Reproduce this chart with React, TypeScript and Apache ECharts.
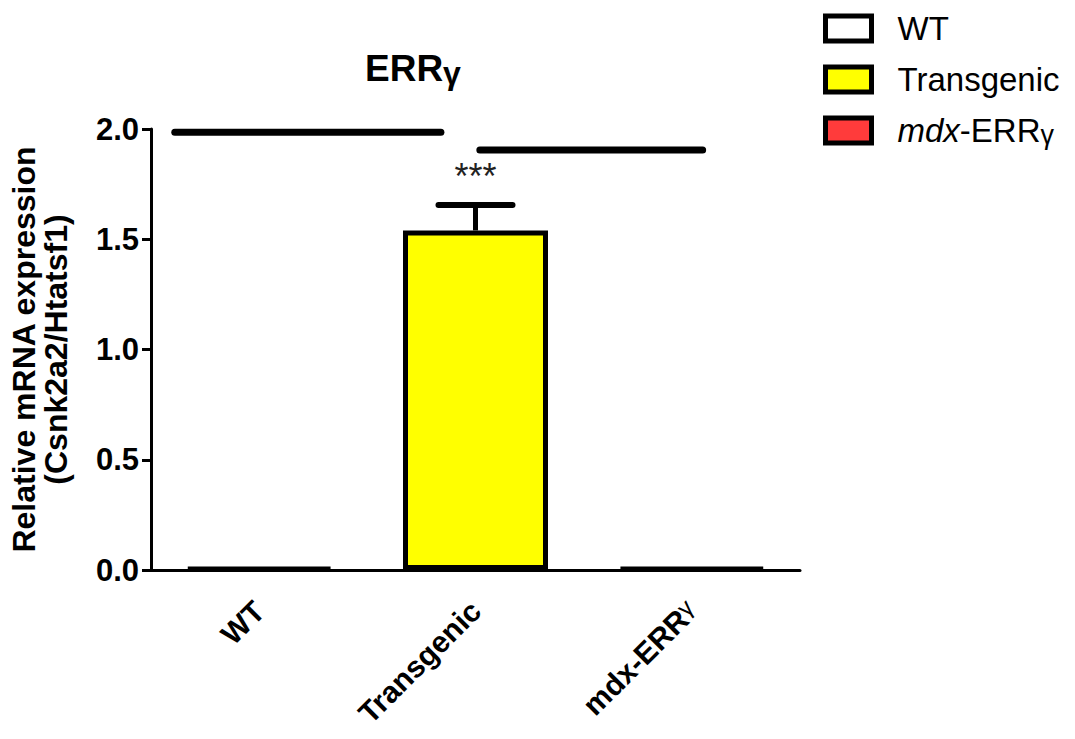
import React, { useEffect, useRef } from "react";
import * as echarts from "echarts";

const categories = ["WT", "Transgenic", "mdx-ERRγ"];
const seriesNames = ["WT", "Transgenic", "mdx-ERRγ"];
const seriesColors = ["#ffffff", "#ffff00", "#ff3b3b"];
const barValues = [0.01, 1.54, 0.01];
// [category index, mean, mean + error]
const errorData = [[1, 1.54, 1.655]];
const sigLabel = "***";
// [start (category units), end (category units), y value]
const sigLines = [
  [-0.39, 0.84, 1.985],
  [1.02, 2.05, 1.905],
];
const yTicks = [0, 0.5, 1.0, 1.5, 2.0];

export default function App() {
  const ref = useRef<HTMLDivElement>(null);
  useEffect(() => {
    const chart = echarts.init(ref.current!, null, { renderer: "svg" });
    const font = "'Liberation Sans', Arial, sans-serif";
    const barSeries = seriesNames.map((name, i) => ({
      name,
      type: "bar",
      barWidth: 145,
      barGap: "-100%",
      data: categories.map((_, j) => (j === i ? barValues[j] : "-")),
      itemStyle: { color: seriesColors[i], borderColor: "#000", borderWidth: 5 },
      z: 2,
    }));
    const gammaSplit = (s: string, a: string, g: string) =>
      s.endsWith("γ") ? "{" + a + "|" + s.slice(0, -1) + "}{" + g + "|γ}" : "{" + a + "|" + s + "}";
    chart.setOption({
      animation: false,
      title: {
        text: "{a|ERR}{b|γ}",
        left: 360,
        top: 42,
        textStyle: {
          rich: {
            a: { fontFamily: font, fontWeight: "bold", fontSize: 37, color: "#000" },
            b: { fontFamily: font, fontSize: 32, color: "#000", padding: [10, 0, 0, 0] },
          },
        },
      },
      legend: {
        left: 818,
        top: 7,
        orient: "vertical",
        itemWidth: 46,
        itemHeight: 25,
        itemGap: 18,
        icon: "rect",
        data: seriesNames,
        itemStyle: { borderColor: "#000", borderWidth: 5 },
        formatter: (n: string) =>
          n === "mdx-ERRγ" ? "{i|mdx}{r|-ERR}{g|γ}" : "{r|" + n + "}",
        textStyle: {
          fontFamily: font,
          fontSize: 33,
          color: "#000",
          padding: [0, 0, 0, 21],
          rich: {
            i: { fontFamily: font, fontSize: 33, fontStyle: "italic", color: "#000" },
            r: { fontFamily: font, fontSize: 33, color: "#000" },
            g: { fontFamily: font, fontSize: 27, color: "#000", padding: [8, 0, 0, 0] },
          },
        },
      },
      grid: { left: 151, right: 275, top: 129, bottom: 169, containLabel: false },
      xAxis: {
        type: "category",
        data: categories,
        axisLine: { lineStyle: { color: "#000", width: 3 } },
        axisTick: { alignWithLabel: true, length: 9, lineStyle: { color: "#000", width: 3 } },
        axisLabel: {
          rotate: 45,
          margin: 36,
          formatter: (v: string) => gammaSplit(v, "b", "g"),
          rich: {
            b: { fontFamily: font, fontWeight: "bold", fontSize: 30, color: "#000" },
            g: { fontFamily: font, fontSize: 24, color: "#000", padding: [0, 0, 8, 0] },
          },
        },
      },
      yAxis: {
        type: "value",
        min: 0,
        max: 2,
        interval: 0.5,
        name: "Relative mRNA expression\n(Csnk2a2/Htatsf1)",
        nameLocation: "middle",
        nameRotate: 90,
        nameGap: 79,
        nameTextStyle: {
          fontFamily: font,
          fontWeight: "bold",
          fontSize: 32,
          color: "#000",
          lineHeight: 32,
        },
        axisLine: { show: true, lineStyle: { color: "#000", width: 3 } },
        axisTick: { show: true, length: 9, lineStyle: { color: "#000", width: 3 } },
        splitLine: { show: false },
        axisLabel: {
          margin: 12,
          fontFamily: font,
          fontWeight: "bold",
          fontSize: 31,
          color: "#000",
          formatter: (v: number) => (yTicks.includes(v) ? v.toFixed(1) : ""),
        },
      },
      series: [
        ...barSeries,
        {
          type: "custom",
          name: "error",
          data: errorData,
          z: 1,
          renderItem: (params: any, api: any) => {
            const x = api.value(0);
            const base = api.coord([x, api.value(1)]);
            const top = api.coord([x, api.value(2)]);
            const half = 37;
            return {
              type: "group",
              children: [
                {
                  type: "line",
                  shape: { x1: base[0], y1: base[1], x2: top[0], y2: top[1] },
                  style: { stroke: "#000", lineWidth: 5 },
                },
                {
                  type: "line",
                  shape: { x1: top[0] - half, y1: top[1], x2: top[0] + half, y2: top[1] },
                  style: { stroke: "#000", lineWidth: 6, lineCap: "round" },
                },
                {
                  type: "text",
                  style: {
                    x: top[0],
                    y: top[1] - 29,
                    text: sigLabel,
                    fill: "#222",
                    fontFamily: font,
                    fontSize: 36,
                    align: "center",
                    verticalAlign: "middle",
                  },
                },
              ],
            };
          },
        },
        {
          type: "custom",
          name: "sig",
          data: sigLines,
          z: 3,
          renderItem: (params: any, api: any) => {
            const y = api.value(2);
            const c0 = api.coord([0, y]);
            const band = api.size([1, 0])[0];
            const x1 = c0[0] + api.value(0) * band;
            const x2 = c0[0] + api.value(1) * band;
            return {
              type: "line",
              shape: { x1, y1: c0[1], x2, y2: c0[1] },
              style: { stroke: "#000", lineWidth: 7, lineCap: "round" },
            };
          },
        },
      ],
    });
    return () => chart.dispose();
  }, []);
  return (
    <div
      ref={ref}
      style={{ position: "absolute", left: 0, top: 0, width: 1075, height: 739, background: "#fff" }}
    />
  );
}
